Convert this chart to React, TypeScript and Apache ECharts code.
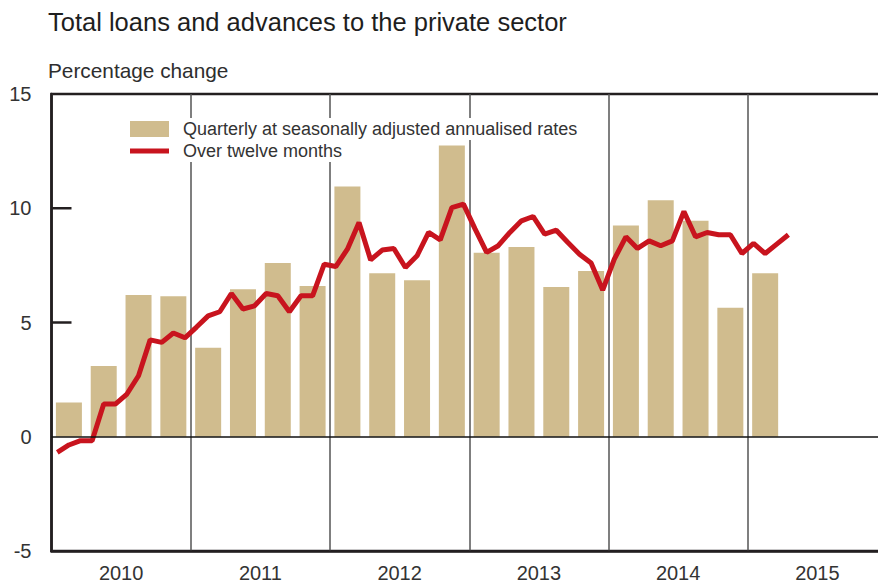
import React, { useEffect, useRef } from "react";
import * as echarts from "echarts";

const years = ["2010", "2011", "2012", "2013", "2014", "2015"];
const quarterlySaar = [
  1.5, 3.1, 6.2, 6.15,
  3.9, 6.45, 7.6, 6.6,
  10.95, 7.15, 6.85, 12.75,
  8.05, 8.3, 6.55, 7.25,
  9.25, 10.35, 9.45, 5.65,
  7.15,
];
const overTwelveMonths = [
  -0.68, -0.36, -0.17, -0.17, 1.43, 1.43, 1.87, 2.67, 4.24, 4.13, 4.54, 4.33,
  4.8, 5.29, 5.47, 6.27, 5.59, 5.73, 6.27, 6.17, 5.47, 6.17, 6.17, 7.55,
  7.45, 8.21, 9.38, 7.74, 8.17, 8.24, 7.41, 7.92, 8.94, 8.62, 10.03, 10.18,
  9.1, 8.07, 8.36, 8.94, 9.45, 9.64, 8.87, 9.04, 8.5, 7.99, 7.6, 6.42,
  7.77, 8.75, 8.24, 8.57, 8.36, 8.57, 9.86, 8.75, 8.94, 8.84, 8.84, 8.02,
  8.46, 8.02, 8.43, 8.84,
];
const yTicks = { min: -5, max: 15, interval: 5 };
const innerTickValues = [5, 10];

const FONT = "'Liberation Sans', Arial, sans-serif";
const BAR_NAME = "Quarterly at seasonally adjusted annualised rates";
const LINE_NAME = "Over twelve months";

export default function App() {
  const ref = useRef<HTMLDivElement>(null);
  useEffect(() => {
    if (!ref.current) return;
    const chart = echarts.init(ref.current, undefined, { renderer: "svg" });
    const monthsTotal = years.length * 12;
    const gridLeft = 51.5;
    const gridWidth = 835.5;
    const tickLen = 20;
    chart.setOption({
      animation: false,
      textStyle: { fontFamily: FONT },
      title: [
        {
          text: "Total loans and advances to the private sector",
          left: 43,
          top: 4,
          textStyle: { fontFamily: FONT, fontSize: 25.5, fontWeight: "normal", color: "#1e1e1e" },
        },
        {
          text: "Percentage change",
          left: 43,
          top: 55,
          textStyle: { fontFamily: FONT, fontSize: 20.8, fontWeight: "normal", color: "#2e2e2e" },
        },
      ],
      legend: {
        orient: "vertical",
        left: 125,
        top: 113,
        itemWidth: 39,
        itemHeight: 16,
        itemGap: 0,
        data: [
          { name: BAR_NAME, icon: "rect" },
          { name: LINE_NAME, icon: "path://M0,0L39,0L39,5L0,5Z" },
        ],
        textStyle: {
          fontFamily: FONT,
          fontSize: 18,
          color: "#333",
          backgroundColor: "#fff",
          padding: [2, 4, 2, 9],
          lineHeight: 18,
        },
      },
      grid: {
        left: gridLeft,
        width: gridWidth,
        top: 94,
        bottom: 33,
        show: true,
        borderColor: "#231f20",
        borderWidth: 2.5,
        containLabel: false,
        outerBoundsMode: "none",
      },
      xAxis: [
        {
          type: "value",
          min: 0,
          max: monthsTotal,
          interval: 12,
          position: "bottom",
          axisLine: { show: true, onZero: false, lineStyle: { color: "#231f20", width: 2.5 } },
          axisTick: { show: false },
          axisLabel: { show: false },
          splitLine: { show: true, lineStyle: { color: "#555", width: 1.5 } },
        },
        {
          type: "category",
          data: years,
          position: "bottom",
          axisLine: { show: false },
          axisTick: { show: false },
          axisLabel: { fontFamily: FONT, fontSize: 20, color: "#333", margin: 12 },
          splitLine: { show: false },
        },
      ],
      yAxis: {
        type: "value",
        min: yTicks.min,
        max: yTicks.max,
        interval: yTicks.interval,
        axisLine: { show: true, lineStyle: { color: "#231f20", width: 2.5 } },
        axisTick: { show: false },
        axisLabel: { fontFamily: FONT, fontSize: 20, color: "#333", margin: 20 },
        splitLine: { show: false },
      },
      series: [
        {
          name: BAR_NAME,
          type: "bar",
          xAxisIndex: 0,
          barWidth: 26,
          itemStyle: { color: "#d0bc8e" },
          data: quarterlySaar.map((v, i) => [i * 3 + 1.5, v]),
          markLine: {
            silent: true,
            symbol: "none",
            label: { show: false },
            lineStyle: { color: "#111", width: 1.5, type: "solid" },
            data: [{ yAxis: 0 }],
          },
        },
        {
          name: LINE_NAME,
          type: "line",
          xAxisIndex: 0,
          symbol: "none",
          showSymbol: false,
          lineStyle: { color: "#c8141e", width: 5 },
          itemStyle: { color: "#c8141e" },
          data: overTwelveMonths.map((v, i) => [i + 0.5, v]),
        },
      ],
    });

    // Inward y-axis tick marks, placed through the y-axis scale
    const x0 = chart.convertToPixel({ xAxisIndex: 0 }, 0) as number;
    const tickGraphics = innerTickValues.map((v) => {
      const y = chart.convertToPixel({ yAxisIndex: 0 }, v) as number;
      return {
        type: "line",
        z: 10,
        silent: true,
        shape: { x1: x0, y1: y, x2: x0 + tickLen, y2: y },
        style: { stroke: "#231f20", lineWidth: 2.5 },
      };
    });
    chart.setOption({ graphic: tickGraphics });

    return () => chart.dispose();
  }, []);
  return (
    <div
      ref={ref}
      style={{ position: "fixed", left: 0, top: 0, width: 878, height: 584, background: "#fff" }}
    />
  );
}
